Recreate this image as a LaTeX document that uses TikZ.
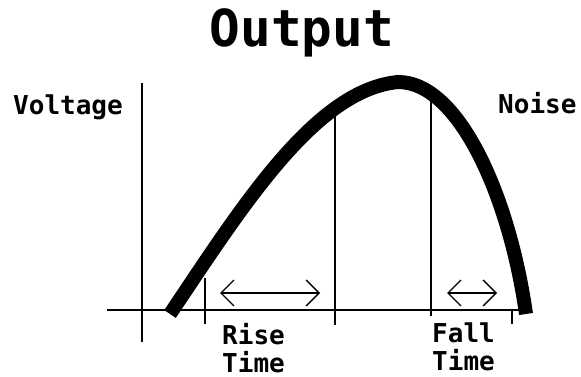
\documentclass[tikz,border=0pt]{standalone}
\usepackage{fontspec}
\usepackage{tikz}
\usetikzlibrary{arrows.meta,positioning}
\newfontfamily\pixfont{DejaVu Sans Mono}
\tikzset{
  lbl/.style={font=\pixfont\bfseries\fontsize{26}{28}\selectfont,inner sep=0pt},
  ttl/.style={font=\pixfont\bfseries\fontsize{51}{56}\selectfont,inner sep=0pt},
  axisline/.style={line width=2.2pt},
  gridline/.style={line width=1.4pt},
  wave/.style={line width=14pt},
  spanarr/.style={{Straight Barb[length=13pt,width=26pt,line width=1.4pt]}-{Straight Barb[length=13pt,width=26pt,line width=1.4pt]},line width=1.4pt}
}
\begin{document}
\begin{tikzpicture}[x=1pt,y=-1pt]
      \useasboundingbox (0,0) rectangle (581,377);
      % labels
      \node[ttl,anchor=base] (title) at (302,47) {Output};
      \node[lbl,anchor=base west] (volt) at (13,115) {Voltage};
      \node[lbl,anchor=base west] (noise) at (498,114) {Noise};
      \node[lbl,anchor=north west,align=left] (rise) at (222,323) {Rise\\Time};
      \node[lbl,anchor=north west,align=left] (fall) at (432,323) {Fall\\Time};
      % axis and markers
      \coordinate (ax0) at (107,310);
      \coordinate (ax1) at (530,310);
      \draw[axisline] (ax0) -- (ax1);
      \coordinate (v0top) at (142,83);   \coordinate (v0bot) at (142,342);
      \coordinate (v1top) at (205,278);  \coordinate (v1bot) at (205,324);
      \coordinate (v2top) at (335,110);  \coordinate (v2bot) at (335,325);
      \coordinate (v3top) at (431,98);   \coordinate (v3bot) at (431,316);
      \coordinate (v4top) at (512,310);  \coordinate (v4bot) at (512,324);
      \foreach \v in {v0,v1,v2,v3,v4} {
        \draw[gridline] (\v top) -- (\v bot);
      }
      % pulse
      \coordinate (foot0) at (170,314);
      \coordinate (peak) at (398,82);
      \coordinate (foot1) at (526,314);
      \draw[wave] (foot0) .. controls (242,207) and (315,90) .. (peak)
                          .. controls (460,82) and (510,200) .. (foot1);
      % time spans
      \coordinate (r0) at (220,293); \coordinate (r1) at (320,293);
      \coordinate (f0) at (447,293); \coordinate (f1) at (497,293);
      \draw[spanarr] (r0) -- (r1);
      \draw[spanarr] (f0) -- (f1);
    \end{tikzpicture}
\end{document}
